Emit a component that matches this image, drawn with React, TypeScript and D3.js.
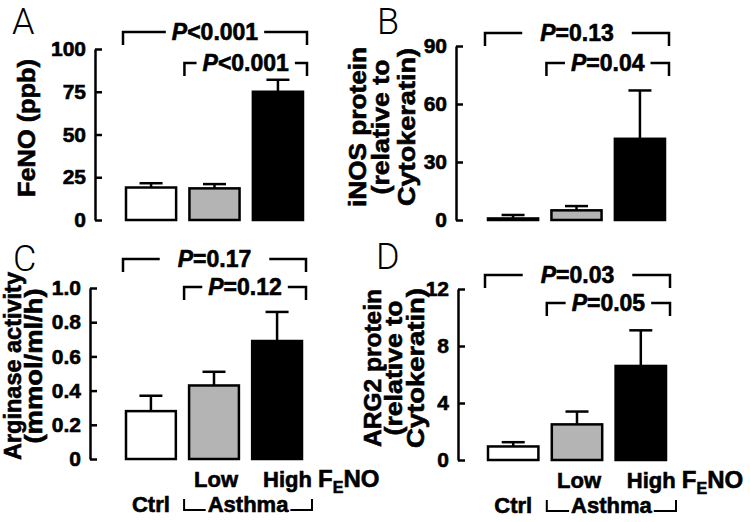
import { useEffect, useRef } from "react";
import * as d3 from "d3";

// groups (x categories) and their fill
const groups = ["Ctrl", "Low", "High"];
const fills = ["#ffffff", "#b4b4b4", "#000000"];

// A: FeNO
const fenoMean = [19, 18.5, 75];
const fenoSem = [2.5, 2.5, 7];
const fenoTicks = [0, 25, 50, 75, 100];
const fenoP = ["<0.001", "<0.001"];

// B: iNOS protein
const inosMean = [0.8, 5, 42];
const inosSem = [1.8, 2.2, 25];
const inosTicks = [0, 30, 60, 90];
const inosP = ["=0.13", "=0.04"];

// C: arginase activity
const argMean = [0.28, 0.43, 0.69];
const argSem = [0.09, 0.08, 0.17];
const argTicks = [0, 0.2, 0.4, 0.6, 0.8, 1.0];
const argP = ["=0.17", "=0.12"];

// D: ARG2 protein
const arg2Mean = [0.95, 2.5, 6.6];
const arg2Sem = [0.3, 0.9, 2.5];
const arg2Ticks = [0, 4, 8, 12];
const arg2P = ["=0.03", "=0.05"];

const FONT = "'Liberation Sans', Arial, Helvetica, sans-serif";

const panels = [
  {
    letter: "A", mean: fenoMean, sem: fenoSem, ticks: fenoTicks, pvals: fenoP,
    fmt: (d) => String(d),
    yLabel: ["FeNO (ppb)"], labelX: [35], labelLen: [138], labelY: 128,
    axisX: 95, bandX: [126, 303], yRange: [220, 49],
    letterPos: [12, 34], bracketY: [-17, 14], topGap: 6, xLabels: false,
  },
  {
    letter: "B", mean: inosMean, sem: inosSem, ticks: inosTicks, pvals: inosP,
    fmt: (d) => String(d),
    yLabel: ["iNOS protein", "(relative to", "Cytokeratin)"],
    labelX: [366, 389, 415], labelLen: [160, 135, 158], labelY: 127,
    axisX: 456, bandX: [488, 665], yRange: [220, 46],
    letterPos: [377, 34], bracketY: [-13, 17], topGap: 18, xLabels: false,
  },
  {
    letter: "C", mean: argMean, sem: argSem, ticks: argTicks, pvals: argP,
    fmt: (d) => (d === 0 ? "0" : d3.format(".1f")(d)),
    yLabel: ["Arginase activity", "(mmol/ml/h)"],
    labelX: [21, 42], labelLen: [188, 155], labelY: 366,
    axisX: 90, bandX: [126, 302], yRange: [459, 288],
    letterPos: [13, 271], bracketY: [-29, -1], topGap: 18, xLabels: true,
  },
  {
    letter: "D", mean: arg2Mean, sem: arg2Sem, ticks: arg2Ticks, pvals: arg2P,
    fmt: (d) => String(d),
    yLabel: ["ARG2 protein", "(relative to", "Cytokeratin)"],
    labelX: [381, 402, 424], labelLen: [158, 135, 160], labelY: 368,
    axisX: 458, bandX: [488, 666], yRange: [460, 289],
    letterPos: [376, 269], bracketY: [-14, 14], topGap: 18, xLabels: true,
  },
];

// heavy sans text, like the figure's Helvetica bold
const heavy = (sel, size) => sel
  .attr("fill", "#000")
  .style("font-family", FONT)
  .style("font-weight", "bold")
  .style("font-size", size + "px")
  .style("stroke", "#000")
  .style("stroke-width", 0.6);

function drawPanel(svg, p) {
  const max = p.ticks[p.ticks.length - 1];
  const y = d3.scaleLinear().domain([0, max]).range(p.yRange);
  const x = d3.scaleBand().domain(groups).range(p.bandX).paddingInner(0.21);
  const bw = x.bandwidth();
  const g = svg.append("g");

  // panel letter
  g.append("text")
    .attr("x", p.letterPos[0])
    .attr("y", p.letterPos[1])
    .style("font-family", "Roboto, 'Liberation Sans', sans-serif")
    .style("font-weight", 300)
    .style("font-size", "36px")
    .text(p.letter);

  // y axis, ticks pointing inward
  const axis = d3.axisLeft(y)
    .tickValues(p.ticks)
    .tickSizeInner(-7)
    .tickSizeOuter(0)
    .tickPadding(9)
    .tickFormat(p.fmt);

  const ax = g.append("g")
    .attr("transform", `translate(${p.axisX},0)`)
    .call(axis);
  ax.select(".domain").attr("stroke", "#000").attr("stroke-width", 2.5);
  ax.selectAll(".tick line").attr("stroke", "#000").attr("stroke-width", 2.5);
  heavy(ax.selectAll(".tick text"), 21);

  // y label (rotated, possibly multi-line)
  p.yLabel.forEach((line, i) => {
    heavy(g.append("text")
      .attr("transform", `translate(${p.labelX[i]},${p.labelY}) rotate(-90)`)
      .attr("text-anchor", "middle")
      .attr("textLength", p.labelLen[i])
      .attr("lengthAdjust", "spacingAndGlyphs")
      .text(line), 23);
  });

  // bars
  g.append("g")
    .selectAll("rect")
    .data(p.mean)
    .join("rect")
    .attr("x", (d, i) => x(groups[i]))
    .attr("y", (d) => y(d))
    .attr("width", bw)
    .attr("height", (d) => y(0) - y(d))
    .attr("fill", (d, i) => fills[i])
    .attr("stroke", "#000")
    .attr("stroke-width", 2.5);

  // error bars (upper only)
  const eb = g.append("g").attr("stroke", "#000").attr("stroke-width", 2.5);
  p.mean.forEach((m, i) => {
    const cx = x(groups[i]) + bw / 2;
    eb.append("line").attr("x1", cx).attr("x2", cx)
      .attr("y1", y(m)).attr("y2", y(m + p.sem[i]));
    eb.append("line").attr("x1", cx - 11.5).attr("x2", cx + 11.5)
      .attr("y1", y(m + p.sem[i])).attr("y2", y(m + p.sem[i]));
  });

  // significance brackets: Ctrl vs High, Low vs High
  const right = x(groups[2]) + bw + 4;
  [0, 1].forEach((k) => {
    const left = k === 0 ? x(groups[0]) - 3 : x(groups[1]) - 5;
    const ly = y(max) + p.bracketY[k];
    const cx = (left + right) / 2;
    const t = heavy(g.append("text")
      .attr("x", cx)
      .attr("y", ly)
      .attr("dy", "0.36em")
      .attr("text-anchor", "middle"), 23);
    t.append("tspan").style("font-style", "italic").text("P");
    t.append("tspan").text(p.pvals[k]);
    const w = t.node().getComputedTextLength();
    const gap = k === 0 ? p.topGap : 6;
    g.append("path")
      .attr("d", `M${left},${ly + 13}V${ly}H${cx - w / 2 - gap}M${cx + w / 2 + gap},${ly}H${right}V${ly + 13}`)
      .attr("fill", "none")
      .attr("stroke", "#000")
      .attr("stroke-width", 2.5);
  });

  if (!p.xLabels) return;

  // category labels under bars
  const row1 = y(0) + 28;
  const row2 = y(0) + 53;

  heavy(g.append("text")
    .attr("x", x(groups[0]) + bw / 2)
    .attr("y", row2)
    .attr("text-anchor", "middle")
    .text(groups[0]), 22);

  heavy(g.append("text")
    .attr("x", x(groups[1]) + bw / 2 + 2)
    .attr("y", row1)
    .attr("text-anchor", "middle")
    .text(groups[1]), 22);

  const hi = heavy(g.append("text")
    .attr("x", x(groups[2]) + bw / 2 - 14)
    .attr("y", row1), 22);
  hi.append("tspan").text(groups[2] + " ");
  hi.append("tspan").style("font-size", "24px").text("F");
  hi.append("tspan").attr("dy", 6).style("font-size", "16px").text("E");
  hi.append("tspan").attr("dy", -6).style("font-size", "24px").text("NO");

  // Asthma bracket
  const aL = x(groups[1]) - 5;
  const aR = x(groups[2]) + bw + 10;
  const aC = (aL + aR) / 2;
  const at = heavy(g.append("text")
    .attr("x", aC)
    .attr("y", row2)
    .attr("text-anchor", "middle")
    .text("Asthma"), 22);
  const aw = at.node().getComputedTextLength();
  const by = row2 - 2;
  g.append("path")
    .attr("d", `M${aL},${by - 11}V${by}H${aC - aw / 2 - 2}M${aC + aw / 2 + 2},${by}H${aR}V${by - 11}`)
    .attr("fill", "none")
    .attr("stroke", "#000")
    .attr("stroke-width", 2);
}

export default function App() {
  const ref = useRef(null);

  useEffect(() => {
    document.body.style.margin = "0";
    const svg = d3.select(ref.current)
      .append("svg")
      .attr("width", 750)
      .attr("height", 522)
      .style("display", "block")
      .style("background", "#fff");

    panels.forEach((p) => drawPanel(svg, p));

    return () => {
      d3.select(ref.current).selectAll("*").remove();
    };
  }, []);

  return <div ref={ref} />;
}
